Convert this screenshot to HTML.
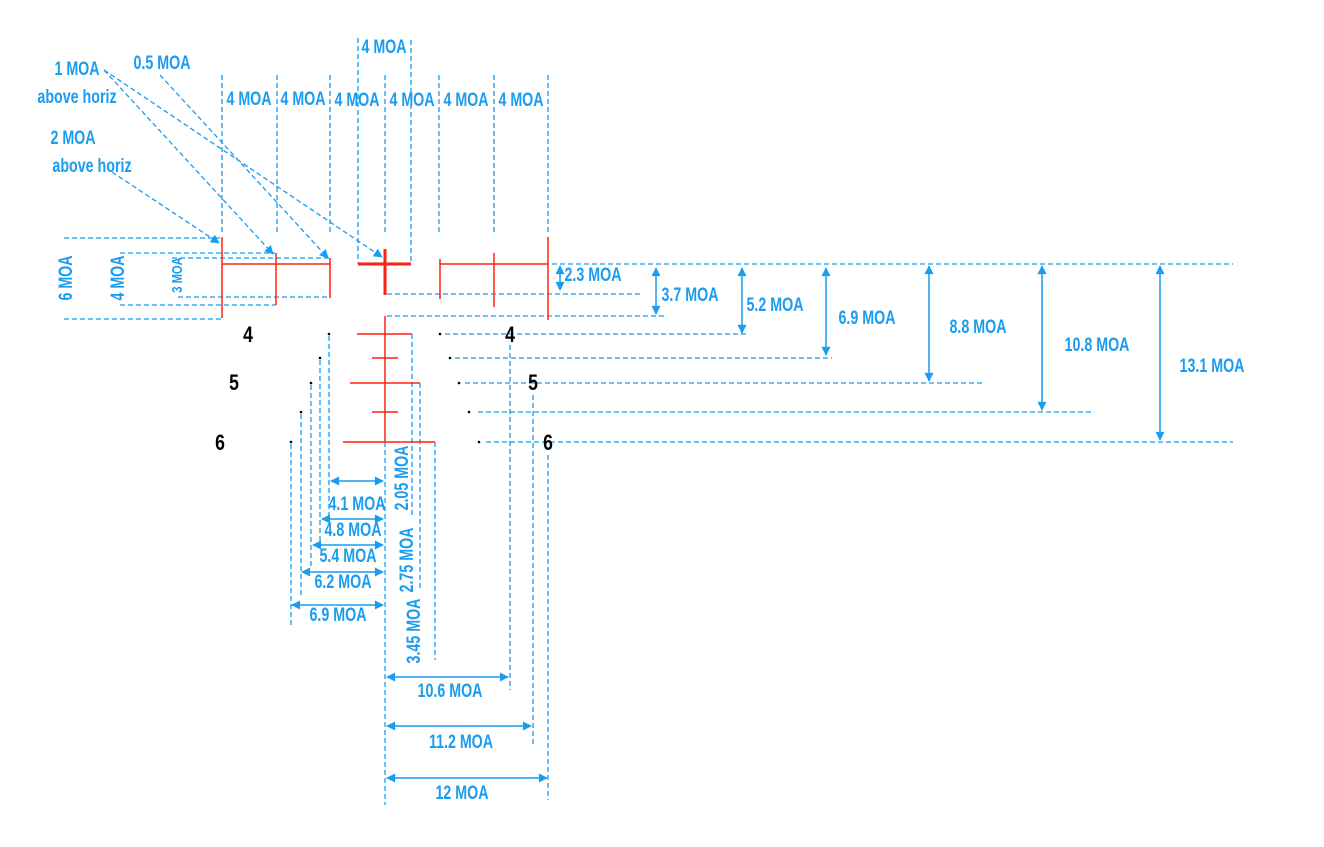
<!DOCTYPE html>
<html><head><meta charset="utf-8"><style>
html,body{margin:0;padding:0;background:#fff;}
svg{display:block;}
text{font-family:"Liberation Sans Narrow","Liberation Sans",sans-serif;font-weight:bold;}
.b{fill:#1a9cf0;font-size:19px;}
.k{fill:#000;font-size:22px;}
.d{stroke:#1a9cf0;stroke-width:1.3;stroke-dasharray:5,3;fill:none;}
.s{stroke:#1a9cf0;stroke-width:1.5;fill:none;}
.r{stroke:#f21;stroke-width:1.5;fill:none;}
</style></head><body>
<svg width="1324" height="847" viewBox="0 0 1324 847" xmlns="http://www.w3.org/2000/svg">
<defs>
<marker id="a" viewBox="0 0 10 10" refX="9" refY="5" markerWidth="10" markerHeight="9" orient="auto-start-reverse" markerUnits="userSpaceOnUse"><path d="M0,0L10,5L0,10z" fill="#1a9cf0"/></marker>
</defs>
<g class="d">
<line x1="222" y1="75" x2="222" y2="232"/><line x1="277" y1="75" x2="277" y2="232"/>
<line x1="330" y1="75" x2="330" y2="232"/><line x1="385" y1="75" x2="385" y2="232"/>
<line x1="439" y1="75" x2="439" y2="232"/><line x1="494" y1="75" x2="494" y2="232"/>
<line x1="548" y1="75" x2="548" y2="232"/>
<polyline points="358,38 358,263 411,263 411,38"/>
<line x1="64" y1="238" x2="220" y2="238"/><line x1="120" y1="253" x2="275" y2="253"/>
<line x1="172" y1="258" x2="330" y2="258"/><line x1="178" y1="297" x2="330" y2="297"/>
<line x1="120" y1="305" x2="276" y2="305"/><line x1="64" y1="319" x2="222" y2="319"/>
<line x1="552" y1="264" x2="1233" y2="264"/><line x1="387" y1="294" x2="640" y2="294"/>
<line x1="387" y1="316" x2="667" y2="316"/><line x1="445" y1="334" x2="747" y2="334"/>
<line x1="455" y1="358" x2="832" y2="358"/><line x1="465" y1="383" x2="982" y2="383"/>
<line x1="478" y1="412" x2="1092" y2="412"/><line x1="486" y1="442" x2="1233" y2="442"/>
<line x1="412" y1="334" x2="412" y2="515"/><line x1="420" y1="383" x2="420" y2="588"/>
<line x1="435" y1="442" x2="435" y2="660"/><line x1="385" y1="442" x2="385" y2="805"/>
<line x1="329" y1="336" x2="329" y2="518"/><line x1="320" y1="360" x2="320" y2="548"/>
<line x1="311" y1="385" x2="311" y2="567"/><line x1="301" y1="414" x2="301" y2="595"/>
<line x1="291" y1="444" x2="291" y2="625"/>
<line x1="510" y1="345" x2="510" y2="690"/><line x1="533" y1="395" x2="533" y2="745"/>
<line x1="548" y1="455" x2="548" y2="800"/>
<line x1="104" y1="70" x2="382" y2="257" marker-end="url(#a)"/>
<line x1="104" y1="70" x2="273" y2="254" marker-end="url(#a)"/>
<line x1="160" y1="75" x2="328" y2="258" marker-end="url(#a)"/>
<line x1="112" y1="172" x2="219" y2="243" marker-end="url(#a)"/>
</g>
<g class="r">
<line x1="222" y1="237" x2="222" y2="318"/><line x1="276" y1="253" x2="276" y2="305"/>
<line x1="330" y1="258" x2="330" y2="298"/><line x1="222" y1="264" x2="330" y2="264"/>
<line x1="440" y1="259" x2="440" y2="299"/><line x1="494" y1="253" x2="494" y2="307"/>
<line x1="548" y1="237" x2="548" y2="320"/><line x1="440" y1="264" x2="548" y2="264"/>
<line x1="385" y1="316" x2="385" y2="442"/>
<line x1="357" y1="334" x2="412" y2="334"/><line x1="372" y1="358" x2="398" y2="358"/>
<line x1="350" y1="383" x2="420" y2="383"/><line x1="372" y1="412" x2="398" y2="412"/>
<line x1="343" y1="442" x2="435" y2="442"/>
<line x1="358" y1="264" x2="411" y2="264" stroke-width="3"/>
<line x1="385" y1="249" x2="385" y2="295" stroke-width="3"/>
</g>
<g fill="#000">
<circle cx="329" cy="334" r="1.3"/><circle cx="320" cy="358" r="1.3"/><circle cx="311" cy="383" r="1.3"/>
<circle cx="301" cy="412" r="1.3"/><circle cx="291" cy="442" r="1.3"/>
<circle cx="440" cy="334" r="1.3"/><circle cx="450" cy="358" r="1.3"/><circle cx="459" cy="383" r="1.3"/>
<circle cx="469" cy="412" r="1.3"/><circle cx="479" cy="442" r="1.3"/>
</g>
<g class="s">
<line x1="560" y1="266" x2="560" y2="290" marker-start="url(#a)" marker-end="url(#a)"/>
<line x1="656" y1="268" x2="656" y2="314" marker-start="url(#a)" marker-end="url(#a)"/>
<line x1="742" y1="268" x2="742" y2="333" marker-start="url(#a)" marker-end="url(#a)"/>
<line x1="826" y1="268" x2="826" y2="355" marker-start="url(#a)" marker-end="url(#a)"/>
<line x1="929" y1="266" x2="929" y2="381" marker-start="url(#a)" marker-end="url(#a)"/>
<line x1="1042" y1="266" x2="1042" y2="410" marker-start="url(#a)" marker-end="url(#a)"/>
<line x1="1160" y1="266" x2="1160" y2="440" marker-start="url(#a)" marker-end="url(#a)"/>
<line x1="331" y1="481" x2="383" y2="481" marker-start="url(#a)" marker-end="url(#a)"/>
<line x1="322" y1="519" x2="383" y2="519" marker-start="url(#a)" marker-end="url(#a)"/>
<line x1="313" y1="545" x2="383" y2="545" marker-start="url(#a)" marker-end="url(#a)"/>
<line x1="302" y1="572" x2="383" y2="572" marker-start="url(#a)" marker-end="url(#a)"/>
<line x1="292" y1="605" x2="383" y2="605" marker-start="url(#a)" marker-end="url(#a)"/>
<line x1="387" y1="677" x2="508" y2="677" marker-start="url(#a)" marker-end="url(#a)"/>
<line x1="387" y1="726" x2="531" y2="726" marker-start="url(#a)" marker-end="url(#a)"/>
<line x1="387" y1="778" x2="547" y2="778" marker-start="url(#a)" marker-end="url(#a)"/>
</g>
<g class="b" text-anchor="middle">
<text transform="translate(77,75) scale(0.75,1)">1 MOA</text>
<text transform="translate(77,103) scale(0.75,1)">above horiz</text>
<text transform="translate(162,69) scale(0.75,1)">0.5 MOA</text>
<text transform="translate(73,144) scale(0.75,1)">2 MOA</text>
<text transform="translate(92,172) scale(0.75,1)">above horiz</text>
<text transform="translate(384,53) scale(0.75,1)">4 MOA</text>
<text transform="translate(249,105) scale(0.75,1)">4 MOA</text>
<text transform="translate(303,105) scale(0.75,1)">4 MOA</text>
<text transform="translate(357,106) scale(0.75,1)">4 MOA</text>
<text transform="translate(412,106) scale(0.75,1)">4 MOA</text>
<text transform="translate(466,106) scale(0.75,1)">4 MOA</text>
<text transform="translate(521,106) scale(0.75,1)">4 MOA</text>
<text transform="translate(593,281) scale(0.75,1)">2.3 MOA</text>
<text transform="translate(690,301) scale(0.75,1)">3.7 MOA</text>
<text transform="translate(775,311) scale(0.75,1)">5.2 MOA</text>
<text transform="translate(867,324) scale(0.75,1)">6.9 MOA</text>
<text transform="translate(978,333) scale(0.75,1)">8.8 MOA</text>
<text transform="translate(1097,351) scale(0.75,1)">10.8 MOA</text>
<text transform="translate(1212,372) scale(0.75,1)">13.1 MOA</text>
<text transform="translate(357,510) scale(0.75,1)">4.1 MOA</text>
<text transform="translate(353,536) scale(0.75,1)">4.8 MOA</text>
<text transform="translate(348,562) scale(0.75,1)">5.4 MOA</text>
<text transform="translate(343,588) scale(0.75,1)">6.2 MOA</text>
<text transform="translate(338,621) scale(0.75,1)">6.9 MOA</text>
<text transform="translate(450,697) scale(0.75,1)">10.6 MOA</text>
<text transform="translate(461,748) scale(0.75,1)">11.2 MOA</text>
<text transform="translate(462,799) scale(0.75,1)">12 MOA</text>
<text transform="translate(72,278) rotate(-90) scale(0.75,1)">6 MOA</text>
<text transform="translate(124,278) rotate(-90) scale(0.75,1)">4 MOA</text>
<text transform="translate(182,275) rotate(-90) scale(0.75,1)" style="font-size:15px">3 MOA</text>
<text transform="translate(408,478) rotate(-90) scale(0.75,1)">2.05 MOA</text>
<text transform="translate(413,560) rotate(-90) scale(0.75,1)">2.75 MOA</text>
<text transform="translate(420,631) rotate(-90) scale(0.75,1)">3.45 MOA</text>
</g>
<g class="k" text-anchor="middle">
<text transform="translate(248,342) scale(0.8,1)">4</text>
<text transform="translate(234,390) scale(0.8,1)">5</text>
<text transform="translate(220,450) scale(0.8,1)">6</text>
<text transform="translate(510,342) scale(0.8,1)">4</text>
<text transform="translate(533,390) scale(0.8,1)">5</text>
<text transform="translate(548,450) scale(0.8,1)">6</text>
</g>
</svg>
</body></html>
